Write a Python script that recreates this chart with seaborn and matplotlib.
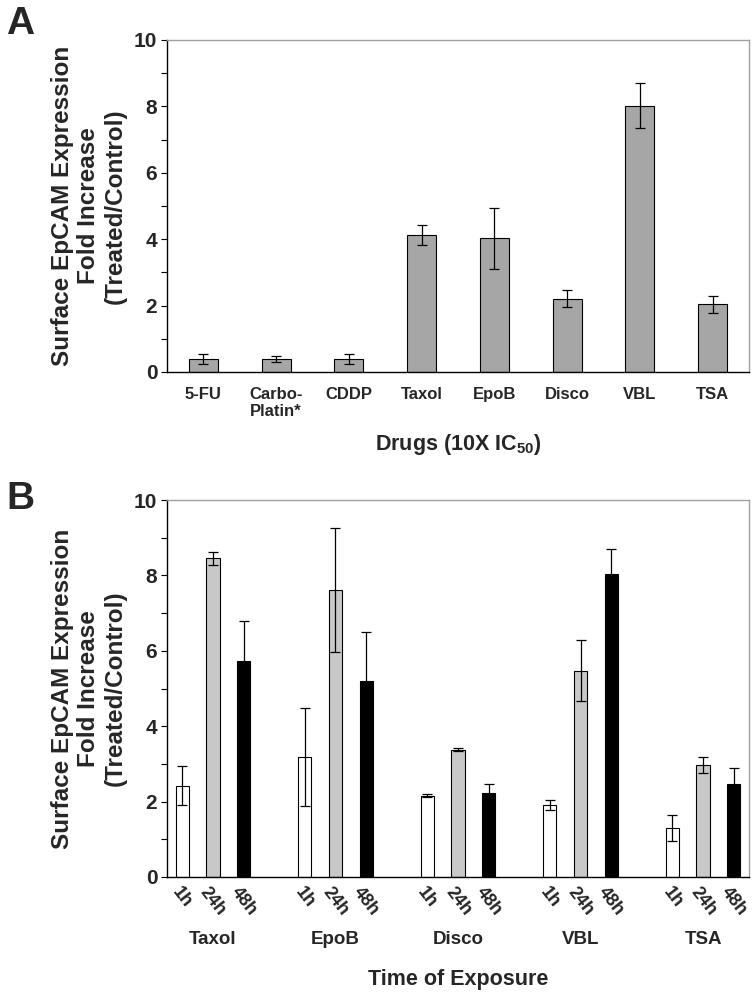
import matplotlib
matplotlib.use("Agg")
import matplotlib.pyplot as plt
import seaborn as sns
import pandas as pd
import numpy as np
from matplotlib.ticker import MultipleLocator

# ---------------- data ----------------
drugs_a = ["5-FU", "Carbo-\nPlatin*", "CDDP", "Taxol", "EpoB", "Disco", "VBL", "TSA"]
values_a = [0.39, 0.39, 0.39, 4.12, 4.03, 2.21, 8.02, 2.04]
errors_a = [0.15, 0.08, 0.15, 0.30, 0.92, 0.25, 0.67, 0.25]

drugs_b = ["Taxol", "EpoB", "Disco", "VBL", "TSA"]
times_b = ["1h", "24h", "48h"]
values_1h = [2.42, 3.19, 2.16, 1.91, 1.30]
values_24h = [8.45, 7.61, 3.38, 5.47, 2.96]
values_48h = [5.73, 5.20, 2.22, 8.03, 2.47]
errors_1h = [0.52, 1.30, 0.05, 0.12, 0.34]
errors_24h = [0.18, 1.64, 0.05, 0.81, 0.21]
errors_48h = [1.05, 1.30, 0.24, 0.67, 0.41]

# ---------------- style ----------------
sns.set_theme(style="white")
plt.rcParams["font.family"] = ["Liberation Sans", "DejaVu Sans"]
plt.rcParams["font.weight"] = "bold"
plt.rcParams["mathtext.fontset"] = "custom"
plt.rcParams["mathtext.rm"] = "Liberation Sans:bold"
plt.rcParams["mathtext.bf"] = "Liberation Sans:bold"
plt.rcParams["mathtext.it"] = "Liberation Sans:bold"

W, H = 755, 998
fig = plt.figure(figsize=(W / 100, H / 100), dpi=100)

def frac(left, top, right, bottom):
    return [left / W, 1 - bottom / H, (right - left) / W, (bottom - top) / H]

ax_a = fig.add_axes(frac(167, 40, 749, 372))
ax_b = fig.add_axes(frac(167, 500, 749, 877))

def style_axes(ax):
    for s in ["top", "right"]:
        ax.spines[s].set_color("#a0a0a0")
        ax.spines[s].set_linewidth(1.0)
    for s in ["left", "bottom"]:
        ax.spines[s].set_color("black")
        ax.spines[s].set_linewidth(1.0)
    ax.set_ylim(0, 10)
    ax.yaxis.set_major_locator(MultipleLocator(2))
    ax.yaxis.set_minor_locator(MultipleLocator(1))
    ax.tick_params(axis="y", which="both", direction="out", left=True,
                   length=4, width=0.8, color="black")
    ax.tick_params(axis="y", which="major", labelsize=15, pad=3)
    for lab in ax.get_yticklabels():
        lab.set_fontweight("bold")
    ax.set_ylabel("Surface EpCAM Expression\nFold Increase\n(Treated/Control)",
                  fontsize=17.5, fontweight="bold", linespacing=1.2, labelpad=5)

# ---------------- panel A ----------------
df_a = pd.DataFrame({"drug": drugs_a, "value": values_a})
sns.barplot(data=df_a, x="drug", y="value", ax=ax_a, color="#a6a6a6",
            saturation=1, width=0.4, edgecolor="black", linewidth=0.8, errorbar=None)
xc = [p.get_x() + p.get_width() / 2 for p in ax_a.patches]
ax_a.errorbar(xc, values_a, yerr=errors_a, fmt="none", ecolor="black",
              elinewidth=0.9, capsize=3.5, capthick=0.9)
ax_a.set_xlim(-0.5, len(drugs_a) - 0.5)
style_axes(ax_a)
ax_a.tick_params(axis="x", length=0, labelsize=12, pad=11)
for lab in ax_a.get_xticklabels():
    lab.set_fontweight("bold")
    lab.set_linespacing(1.15)
    lab.set_verticalalignment("top")
ax_a.set_xlabel(r"Drugs (10X IC$_{50}$)", fontsize=15.5, fontweight="bold", labelpad=9)

# ---------------- panel B ----------------
rows = []
for i, d in enumerate(drugs_b):
    for t, vals, errs in zip(times_b, [values_1h, values_24h, values_48h],
                             [errors_1h, errors_24h, errors_48h]):
        rows.append({"drug": d, "time": t, "value": vals[i], "err": errs[i]})
df_b = pd.DataFrame(rows)
sns.barplot(data=df_b, x="drug", y="value", hue="time", ax=ax_b,
            order=drugs_b, hue_order=times_b,
            palette=["white", "#c8c8c8", "black"], saturation=1,
            width=0.75, gap=0.57, edgecolor="black", linewidth=0.8,
            errorbar=None, legend=False)
patches = sorted(ax_b.patches, key=lambda p: p.get_x())
centers = [p.get_x() + p.get_width() / 2 for p in patches]
ax_b.errorbar(centers, df_b["value"], yerr=df_b["err"], fmt="none", ecolor="black",
              elinewidth=0.9, capsize=3.5, capthick=0.9)
ax_b.set_xlim(-0.375, len(drugs_b) - 1 + 0.375)
style_axes(ax_b)
# time labels under each bar
ax_b.set_xticks(centers)
ax_b.set_xticklabels(list(df_b["time"]), rotation=-52, fontsize=13, fontweight="bold")
ax_b.tick_params(axis="x", which="both", length=0, pad=5)
ax_b.set_xlabel("Time of Exposure", fontsize=15.5, fontweight="bold", va="center")
ax_b.xaxis.set_label_coords(0.5, (877 - 979) / 377)
# drug names under each group
sec = ax_b.secondary_xaxis("bottom")
sec.set_xticks(range(len(drugs_b)))
sec.set_xticklabels(drugs_b, fontsize=13.5, fontweight="bold")
sec.tick_params(axis="x", length=0, pad=39)
sec.spines["bottom"].set_visible(False)

# panel letters
fig.text(6 / W, 1 - 34 / H, "A", fontsize=28, fontweight="bold", ha="left", va="baseline")
fig.text(6 / W, 1 - 509 / H, "B", fontsize=28, fontweight="bold", ha="left", va="baseline")

fig.savefig("out.png", dpi=100)
